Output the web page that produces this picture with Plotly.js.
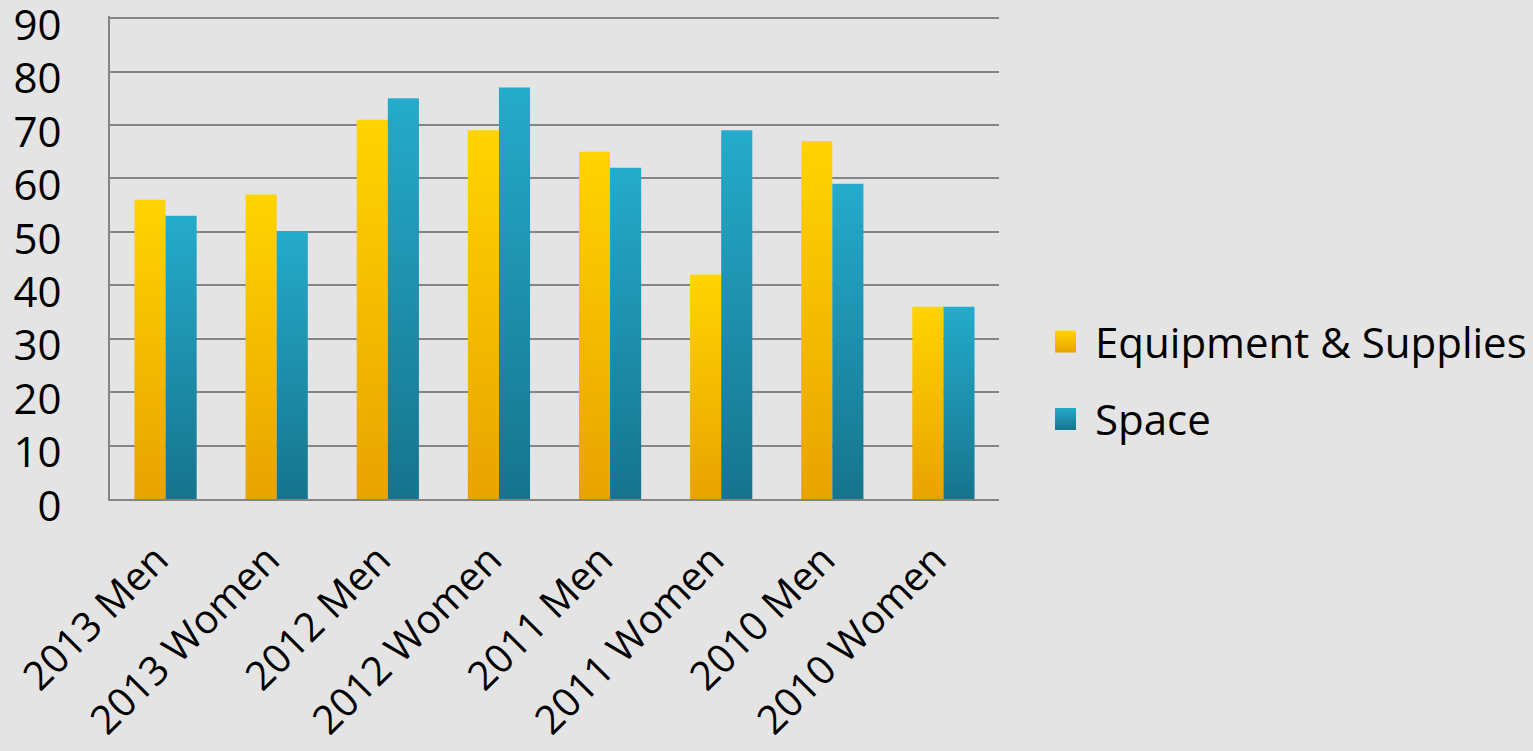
<!DOCTYPE html>
<html>
<head>
<meta charset="utf-8">
<script src="https://cdn.plot.ly/plotly-3.0.1.min.js"></script>
<style>
  html, body { margin: 0; padding: 0; background: #e4e4e4; }
  #chart { width: 1533px; height: 751px; }
</style>
</head>
<body>
<div id="chart"></div>
<script>
const categories = ["2013 Men", "2013 Women", "2012 Men", "2012 Women", "2011 Men", "2011 Women", "2010 Men", "2010 Women"];
const equipmentValues = [56, 57, 71, 69, 65, 42, 67, 36];
const spaceValues = [53, 50, 75, 77, 62, 69, 59, 36];
const seriesNames = ["Equipment & Supplies", "Space"];
const yTicks = [0, 10, 20, 30, 40, 50, 60, 70, 80, 90];

const FONT = "Open Sans, DejaVu Sans, sans-serif";
const FS = 42;

const traces = [
  { type: "bar", name: seriesNames[0], x: categories, y: equipmentValues,
    marker: { color: "#f4bb00", line: { width: 0 } }, legendgroup: "a" },
  { type: "bar", name: seriesNames[1], x: categories, y: spaceValues,
    marker: { color: "#1d8fae", line: { width: 0 } }, legendgroup: "b" }
];

const layout = {
  width: 1533, height: 751,
  paper_bgcolor: "#e4e4e4", plot_bgcolor: "#e4e4e4",
  margin: { l: 110, r: 534, t: 16, b: 252, autoexpand: false },
  barmode: "group", bargap: 0.44, bargroupgap: 0,
  font: { family: FONT, size: FS, color: "#000" },
  xaxis: {
    type: "category", tickangle: -45, showgrid: false, automargin: false,
    showline: true, linecolor: "#858585", linewidth: 2,
    ticks: "", ticklabelstandoff: 19, ticklabelshift: -9,
    tickfont: { family: FONT, size: 40, color: "#000" }
  },
  yaxis: {
    range: [0, 90.4], tickvals: yTicks, ticktext: yTicks.map(String),
    showgrid: true, gridcolor: "#858585", gridwidth: 2, automargin: false,
    showline: true, linecolor: "#858585", linewidth: 2, zeroline: false,
    ticks: "", ticklabelstandoff: 38, ticklabelshift: 7, ticklabeloverflow: "allow",
    tickfont: { family: FONT, size: FS, color: "#000" }
  },
  showlegend: true,
  legend: {
    x: 1.063, xanchor: "left", y: 0.245, yanchor: "middle",
    bgcolor: "rgba(0,0,0,0)", tracegroupgap: 20, traceorder: "grouped",
    font: { family: FONT, size: FS, color: "#000" }
  }
};

function applyGradients(gd) {
  const svg = gd.querySelector("svg.main-svg");
  if (!svg) return;
  const ns = "http://www.w3.org/2000/svg";
  let defs = svg.querySelector("defs#custom-grads");
  if (!defs) {
    defs = document.createElementNS(ns, "defs");
    defs.setAttribute("id", "custom-grads");
    const specs = [["gradYellow", "#ffd400", "#e9a300"], ["gradTeal", "#25abcb", "#16748d"]];
    specs.forEach(([id, top, bottom]) => {
      const g = document.createElementNS(ns, "linearGradient");
      g.setAttribute("id", id);
      g.setAttribute("x1", "0"); g.setAttribute("y1", "0");
      g.setAttribute("x2", "0"); g.setAttribute("y2", "1");
      const s1 = document.createElementNS(ns, "stop");
      s1.setAttribute("offset", "0"); s1.setAttribute("stop-color", top);
      const s2 = document.createElementNS(ns, "stop");
      s2.setAttribute("offset", "1"); s2.setAttribute("stop-color", bottom);
      g.appendChild(s1); g.appendChild(s2);
      defs.appendChild(g);
    });
    svg.insertBefore(defs, svg.firstChild);
  }
  const ids = ["gradYellow", "gradTeal"];
  gd.querySelectorAll(".barlayer .trace.bars").forEach((t, i) => {
    t.querySelectorAll("path").forEach(p => { p.style.fill = "url(#" + ids[i % 2] + ")"; });
  });
  gd.querySelectorAll(".legend .traces").forEach((t, i) => {
    t.querySelectorAll(".legendpoints path").forEach(p => {
      p.style.fill = "url(#" + ids[i % 2] + ")";
      p.style.stroke = "none";
      p.setAttribute("d", "M11,11H-11V-11H11Z");
      p.setAttribute("transform", "translate(10,0)");
    });
  });
}

const gd = document.getElementById("chart");
Plotly.newPlot(gd, traces, layout, { staticPlot: true, displayModeBar: false }).then(() => {
  applyGradients(gd);
  gd.on("plotly_afterplot", () => applyGradients(gd));
});
</script>
</body>
</html>
